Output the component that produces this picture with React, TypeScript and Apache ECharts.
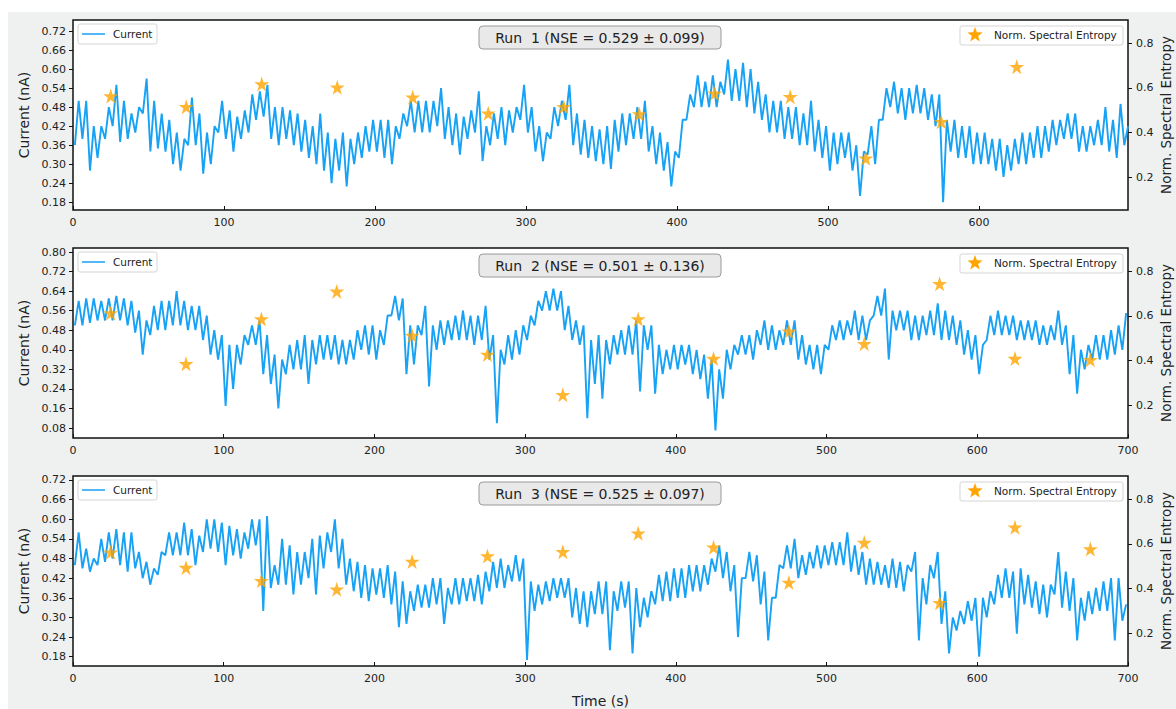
import React, { useEffect, useRef } from "react";
import * as echarts from "echarts";

// ---------- DATA ----------
const BIN_SECONDS = 5; // each current value pair (low, high) covers a 5 s window
const ENTROPY_TIMES = [25, 75, 125, 175, 225, 275, 325, 375, 425, 475, 525, 575, 625, 675];

const RUN1_ENTROPY = [0.564, 0.516, 0.618, 0.603, 0.558, 0.487, 0.516, 0.483, 0.576, 0.561, 0.285, 0.449, 0.695];
const RUN2_ENTROPY = [0.613, 0.386, 0.586, 0.71, 0.512, 0.427, 0.247, 0.586, 0.409, 0.531, 0.476, 0.744, 0.409, 0.404];
const RUN3_ENTROPY = [0.563, 0.494, 0.435, 0.397, 0.521, 0.546, 0.565, 0.648, 0.585, 0.427, 0.606, 0.337, 0.675, 0.577];

const RUN1_LOW = [
  0.36, 0.38, 0.28, 0.32, 0.38, 0.42, 0.37, 0.38, 0.40, 0.46,
  0.34, 0.35, 0.34, 0.30, 0.28, 0.36, 0.36, 0.27, 0.30, 0.40,
  0.38, 0.34, 0.38, 0.40, 0.44, 0.45, 0.38, 0.36, 0.38, 0.36,
  0.34, 0.32, 0.30, 0.28, 0.24, 0.28, 0.23, 0.30, 0.32, 0.34,
  0.34, 0.32, 0.30, 0.38, 0.42, 0.40, 0.40, 0.40, 0.42, 0.38,
  0.36, 0.33, 0.38, 0.40, 0.31, 0.36, 0.38, 0.36, 0.40, 0.44,
  0.40, 0.34, 0.31, 0.38, 0.42, 0.44, 0.36, 0.33, 0.32, 0.31,
  0.30, 0.285, 0.34, 0.36, 0.38, 0.38, 0.34, 0.30, 0.28, 0.23,
  0.32, 0.44, 0.48, 0.48, 0.48, 0.48, 0.52, 0.50, 0.50, 0.48,
  0.46, 0.44, 0.40, 0.40, 0.38, 0.38, 0.36, 0.36, 0.34, 0.32,
  0.28, 0.30, 0.32, 0.28, 0.20, 0.33, 0.30, 0.44, 0.48, 0.46,
  0.44, 0.46, 0.46, 0.44, 0.42, 0.18, 0.34, 0.32, 0.32, 0.30,
  0.30, 0.30, 0.28, 0.26, 0.28, 0.30, 0.30, 0.32, 0.32, 0.34,
  0.36, 0.38, 0.38, 0.34, 0.34, 0.36, 0.36, 0.34, 0.32, 0.36,
];
const RUN1_HIGH = [
  0.50, 0.50, 0.42, 0.42, 0.48, 0.55, 0.50, 0.46, 0.48, 0.57,
  0.50, 0.46, 0.44, 0.40, 0.38, 0.51, 0.46, 0.40, 0.42, 0.50,
  0.47, 0.45, 0.47, 0.52, 0.53, 0.55, 0.48, 0.48, 0.47, 0.46,
  0.44, 0.42, 0.46, 0.40, 0.38, 0.40, 0.38, 0.40, 0.42, 0.44,
  0.44, 0.44, 0.42, 0.46, 0.50, 0.50, 0.50, 0.50, 0.54, 0.48,
  0.46, 0.45, 0.47, 0.53, 0.42, 0.46, 0.48, 0.47, 0.48, 0.55,
  0.48, 0.42, 0.40, 0.48, 0.50, 0.55, 0.46, 0.44, 0.42, 0.41,
  0.42, 0.44, 0.46, 0.46, 0.48, 0.50, 0.42, 0.40, 0.37, 0.34,
  0.44, 0.52, 0.58, 0.56, 0.58, 0.56, 0.63, 0.60, 0.62, 0.60,
  0.56, 0.52, 0.50, 0.50, 0.48, 0.48, 0.46, 0.50, 0.44, 0.42,
  0.40, 0.40, 0.40, 0.36, 0.34, 0.42, 0.44, 0.54, 0.56, 0.54,
  0.54, 0.55, 0.54, 0.52, 0.52, 0.44, 0.44, 0.42, 0.42, 0.40,
  0.40, 0.38, 0.38, 0.36, 0.38, 0.40, 0.40, 0.42, 0.42, 0.44,
  0.44, 0.46, 0.46, 0.42, 0.42, 0.44, 0.48, 0.44, 0.49, 0.42,
];

const RUN2_LOW = [
  0.50, 0.50, 0.51, 0.52, 0.52, 0.52, 0.52, 0.50, 0.47, 0.38,
  0.46, 0.48, 0.48, 0.50, 0.50, 0.48, 0.48, 0.44, 0.38, 0.36,
  0.17, 0.24, 0.34, 0.42, 0.42, 0.30, 0.26, 0.16, 0.30, 0.32,
  0.32, 0.26, 0.34, 0.36, 0.36, 0.34, 0.34, 0.36, 0.40, 0.38,
  0.36, 0.42, 0.54, 0.52, 0.30, 0.34, 0.46, 0.25, 0.40, 0.42,
  0.44, 0.44, 0.44, 0.42, 0.44, 0.36, 0.10, 0.34, 0.36, 0.38,
  0.44, 0.50, 0.56, 0.56, 0.56, 0.48, 0.44, 0.42, 0.12, 0.26,
  0.20, 0.34, 0.38, 0.38, 0.38, 0.23, 0.40, 0.22, 0.30, 0.32,
  0.32, 0.34, 0.30, 0.28, 0.20, 0.07, 0.20, 0.32, 0.38, 0.38,
  0.36, 0.42, 0.40, 0.40, 0.42, 0.42, 0.36, 0.34, 0.32, 0.30,
  0.40, 0.44, 0.44, 0.46, 0.44, 0.44, 0.54, 0.54, 0.36, 0.48,
  0.48, 0.44, 0.44, 0.46, 0.46, 0.44, 0.44, 0.42, 0.38, 0.36,
  0.30, 0.44, 0.46, 0.46, 0.46, 0.44, 0.44, 0.44, 0.42, 0.42,
  0.44, 0.42, 0.30, 0.22, 0.32, 0.36, 0.36, 0.36, 0.38, 0.40,
];
const RUN2_HIGH = [
  0.60, 0.61, 0.61, 0.60, 0.61, 0.62, 0.61, 0.60, 0.56, 0.52,
  0.58, 0.60, 0.60, 0.64, 0.60, 0.58, 0.58, 0.54, 0.48, 0.46,
  0.42, 0.42, 0.46, 0.50, 0.52, 0.46, 0.38, 0.36, 0.42, 0.44,
  0.46, 0.44, 0.46, 0.46, 0.46, 0.44, 0.44, 0.48, 0.50, 0.50,
  0.48, 0.54, 0.62, 0.61, 0.50, 0.50, 0.58, 0.50, 0.52, 0.52,
  0.54, 0.56, 0.54, 0.54, 0.58, 0.46, 0.40, 0.46, 0.48, 0.50,
  0.54, 0.60, 0.64, 0.65, 0.64, 0.58, 0.52, 0.50, 0.44, 0.46,
  0.44, 0.46, 0.48, 0.50, 0.52, 0.50, 0.50, 0.42, 0.40, 0.42,
  0.42, 0.42, 0.40, 0.38, 0.36, 0.32, 0.40, 0.42, 0.46, 0.46,
  0.48, 0.52, 0.50, 0.48, 0.52, 0.52, 0.46, 0.42, 0.42, 0.42,
  0.50, 0.52, 0.52, 0.56, 0.54, 0.52, 0.62, 0.65, 0.56, 0.56,
  0.56, 0.54, 0.54, 0.56, 0.59, 0.56, 0.54, 0.52, 0.48, 0.46,
  0.42, 0.54, 0.56, 0.54, 0.54, 0.52, 0.52, 0.52, 0.50, 0.50,
  0.56, 0.50, 0.46, 0.40, 0.42, 0.46, 0.46, 0.48, 0.50, 0.55,
];

const RUN3_LOW = [
  0.46, 0.45, 0.44, 0.46, 0.47, 0.48, 0.46, 0.44, 0.45, 0.42,
  0.40, 0.43, 0.49, 0.49, 0.49, 0.49, 0.46, 0.50, 0.51, 0.50,
  0.46, 0.49, 0.48, 0.51, 0.52, 0.32, 0.39, 0.40, 0.40, 0.37,
  0.40, 0.42, 0.37, 0.45, 0.50, 0.45, 0.40, 0.38, 0.36, 0.35,
  0.37, 0.36, 0.34, 0.27, 0.28, 0.32, 0.33, 0.33, 0.34, 0.28,
  0.34, 0.34, 0.35, 0.35, 0.34, 0.38, 0.39, 0.39, 0.41, 0.41,
  0.17, 0.32, 0.34, 0.35, 0.36, 0.36, 0.30, 0.28, 0.27, 0.31,
  0.31, 0.20, 0.32, 0.33, 0.19, 0.27, 0.30, 0.34, 0.35, 0.35,
  0.36, 0.36, 0.38, 0.38, 0.40, 0.44, 0.42, 0.38, 0.24, 0.42,
  0.41, 0.34, 0.23, 0.36, 0.45, 0.45, 0.42, 0.43, 0.45, 0.45,
  0.46, 0.46, 0.46, 0.44, 0.43, 0.40, 0.40, 0.40, 0.39, 0.39,
  0.38, 0.44, 0.23, 0.34, 0.42, 0.28, 0.19, 0.26, 0.28, 0.29,
  0.18, 0.30, 0.34, 0.36, 0.36, 0.25, 0.34, 0.33, 0.31, 0.30,
  0.37, 0.33, 0.32, 0.23, 0.29, 0.31, 0.32, 0.32, 0.23, 0.29,
];
const RUN3_HIGH = [
  0.56, 0.51, 0.48, 0.54, 0.56, 0.57, 0.56, 0.56, 0.50, 0.47,
  0.45, 0.50, 0.56, 0.56, 0.59, 0.57, 0.55, 0.60, 0.60, 0.59,
  0.58, 0.57, 0.56, 0.60, 0.60, 0.61, 0.46, 0.54, 0.52, 0.50,
  0.50, 0.54, 0.55, 0.56, 0.60, 0.54, 0.48, 0.47, 0.46, 0.45,
  0.45, 0.46, 0.44, 0.41, 0.38, 0.40, 0.40, 0.42, 0.42, 0.39,
  0.42, 0.42, 0.42, 0.43, 0.44, 0.47, 0.48, 0.46, 0.49, 0.48,
  0.41, 0.40, 0.41, 0.42, 0.42, 0.42, 0.39, 0.38, 0.38, 0.41,
  0.41, 0.38, 0.41, 0.41, 0.39, 0.36, 0.38, 0.43, 0.44, 0.45,
  0.45, 0.46, 0.46, 0.46, 0.48, 0.52, 0.50, 0.46, 0.42, 0.50,
  0.49, 0.44, 0.36, 0.46, 0.52, 0.54, 0.49, 0.50, 0.52, 0.52,
  0.53, 0.53, 0.56, 0.52, 0.50, 0.48, 0.47, 0.46, 0.48, 0.47,
  0.46, 0.50, 0.42, 0.46, 0.50, 0.38, 0.30, 0.32, 0.35, 0.36,
  0.36, 0.38, 0.43, 0.45, 0.44, 0.45, 0.43, 0.41, 0.40, 0.40,
  0.50, 0.44, 0.42, 0.36, 0.38, 0.39, 0.41, 0.42, 0.42, 0.34,
];

const RUN_TITLES = [
  "Run  1 (NSE = 0.529 ± 0.099)",
  "Run  2 (NSE = 0.501 ± 0.136)",
  "Run  3 (NSE = 0.525 ± 0.097)",
];
const X_MAX = [698.7, 700, 700];
const LEFT_RANGE = [
  [0.1557, 0.7547],
  [0.0391, 0.8164],
  [0.1516, 0.7322],
];
const LEFT_TICKS = [
  [0.18, 0.24, 0.3, 0.36, 0.42, 0.48, 0.54, 0.6, 0.66, 0.72],
  [0.08, 0.16, 0.24, 0.32, 0.4, 0.48, 0.56, 0.64, 0.72, 0.8],
  [0.18, 0.24, 0.3, 0.36, 0.42, 0.48, 0.54, 0.6, 0.66, 0.72],
];
const RIGHT_RANGE = [0.0536, 0.9043];
const RIGHT_TICKS = [0.2, 0.4, 0.6, 0.8];
const X_TICKS = [0, 100, 200, 300, 400, 500, 600, 700];

// ---------- STYLE ----------
const BLUE = "#17a2f5";
const ORANGE = "#ffa500";
const FONT = "DejaVu Sans";
const TEXT = "#222";
const STAR = "path://M50,0L61.2,34.5L97.6,34.5L68.2,55.9L79.4,90.5L50,69.1L20.6,90.5L31.8,55.9L2.4,34.5L38.8,34.5Z";
const GRID_LEFT = 73;
const GRID_W = 1055;
const GRID_H = 190;
const GRID_TOPS = [20, 248, 476];

function traceData(low: number[], high: number[]) {
  const out: number[][] = [];
  for (let i = 0; i < low.length; i++) {
    const t0 = i * BIN_SECONDS;
    out.push([t0 + BIN_SECONDS * 0.25, low[i]]);
    out.push([t0 + BIN_SECONDS * 0.75, high[i]]);
  }
  return out;
}

function starPoints(cx: number, cy: number, r: number) {
  const pts: number[][] = [];
  for (let k = 0; k < 10; k++) {
    const rad = k % 2 === 0 ? r : r * 0.42;
    const a = -Math.PI / 2 + (k * Math.PI) / 5;
    pts.push([cx + rad * Math.cos(a), cy + rad * Math.sin(a)]);
  }
  return pts;
}

export default function App() {
  const ref = useRef<HTMLDivElement>(null);

  useEffect(() => {
    if (!ref.current) return;
    const chart = echarts.init(ref.current, undefined, { renderer: "svg" });
    const lows = [RUN1_LOW, RUN2_LOW, RUN3_LOW];
    const highs = [RUN1_HIGH, RUN2_HIGH, RUN3_HIGH];
    const ents = [RUN1_ENTROPY, RUN2_ENTROPY, RUN3_ENTROPY];

    const grid: any[] = [];
    const xAxis: any[] = [];
    const yAxis: any[] = [];
    const series: any[] = [];
    const graphic: any[] = [];

    for (let p = 0; p < 3; p++) {
      const top = GRID_TOPS[p];
      const xt = X_TICKS.filter((v) => v <= X_MAX[p]);
      grid.push({
        left: GRID_LEFT,
        top,
        width: GRID_W,
        height: GRID_H,
        show: true,
        backgroundColor: "#ffffff",
        borderColor: "#111",
        borderWidth: 1.5,
        containLabel: false,
        outerBoundsMode: "none",
      });
      xAxis.push({
        type: "value",
        gridIndex: p,
        min: 0,
        max: X_MAX[p],
        axisLine: { show: false },
        splitLine: { show: false },
        axisTick: { show: true, inside: true, length: 4, lineStyle: { color: "#111", width: 1 }, customValues: xt },
        axisLabel: {
          show: true,
          margin: 7,
          fontSize: 11,
          fontFamily: FONT,
          color: TEXT,
          customValues: xt,
          showMinLabel: true,
          showMaxLabel: true,
        },
        name: p === 2 ? "Time (s)" : "",
        nameLocation: "middle",
        nameGap: 28,
        nameTextStyle: { fontSize: 14, fontFamily: FONT, color: TEXT },
      });
      yAxis.push({
        type: "value",
        gridIndex: p,
        position: "left",
        min: LEFT_RANGE[p][0],
        max: LEFT_RANGE[p][1],
        axisLine: { show: false },
        splitLine: { show: false },
        axisTick: { show: true, inside: false, length: 4, lineStyle: { color: "#111", width: 1 }, customValues: LEFT_TICKS[p] },
        axisLabel: {
          margin: 7,
          fontSize: 11,
          fontFamily: FONT,
          color: TEXT,
          customValues: LEFT_TICKS[p],
          formatter: (v: number) => v.toFixed(2),
        },
        name: "Current (nA)",
        nameLocation: "middle",
        nameGap: 41,
        nameTextStyle: { fontSize: 14, fontFamily: FONT, color: TEXT },
      });
      yAxis.push({
        type: "value",
        gridIndex: p,
        position: "right",
        min: RIGHT_RANGE[0],
        max: RIGHT_RANGE[1],
        axisLine: { show: false },
        splitLine: { show: false },
        axisTick: { show: true, inside: false, length: 4, lineStyle: { color: "#111", width: 1 }, customValues: RIGHT_TICKS },
        axisLabel: {
          margin: 8,
          fontSize: 11,
          fontFamily: FONT,
          color: TEXT,
          customValues: RIGHT_TICKS,
          formatter: (v: number) => v.toFixed(1),
        },
      });

      series.push({
        type: "line",
        name: "Current",
        xAxisIndex: p,
        yAxisIndex: p * 2,
        data: traceData(lows[p], highs[p]),
        showSymbol: false,
        symbol: "none",
        lineStyle: { color: BLUE, width: 1.9 },
        clip: true,
        z: 2,
      });
      series.push({
        type: "scatter",
        name: "Norm. Spectral Entropy",
        xAxisIndex: p,
        yAxisIndex: p * 2 + 1,
        data: ents[p].map((v, i) => [ENTROPY_TIMES[i], v]),
        symbol: STAR,
        symbolSize: 15,
        itemStyle: { color: ORANGE },
        z: 3,
      });

      // right axis title
      graphic.push({
        type: "text",
        z: 101,
        x: 1166,
        y: top + GRID_H / 2,
        rotation: Math.PI / 2,
        style: {
          text: "Norm. Spectral Entropy",
          fill: TEXT,
          font: `13.5px "${FONT}"`,
          align: "center",
          verticalAlign: "middle",
        },
      });
      // title box
      graphic.push({
        type: "rect",
        z: 100,
        shape: { x: 479, y: top + 6, width: 242, height: 23, r: 4 },
        style: { fill: "#e9e9e9", stroke: "#9a9a9a", lineWidth: 1 },
      });
      graphic.push({
        type: "text",
        z: 101,
        x: 600,
        y: top + 17.5,
        style: {
          text: RUN_TITLES[p],
          fill: TEXT,
          font: `14px "${FONT}"`,
          align: "center",
          verticalAlign: "middle",
        },
      });
      // left legend
      graphic.push({
        type: "rect",
        z: 100,
        shape: { x: 78, y: top + 4, width: 79, height: 20, r: 2 },
        style: { fill: "rgba(255,255,255,0.85)", stroke: "#d5d5d5", lineWidth: 1 },
      });
      graphic.push({
        type: "line",
        z: 101,
        shape: { x1: 82, y1: top + 14, x2: 105, y2: top + 14 },
        style: { stroke: BLUE, lineWidth: 1.5 },
      });
      graphic.push({
        type: "text",
        z: 101,
        x: 113,
        y: top + 14,
        style: { text: "Current", fill: TEXT, font: `10.5px "${FONT}"`, verticalAlign: "middle" },
      });
      // right legend
      graphic.push({
        type: "rect",
        z: 100,
        shape: { x: 960, y: top + 6, width: 163, height: 19, r: 2 },
        style: { fill: "rgba(255,255,255,0.85)", stroke: "#d5d5d5", lineWidth: 1 },
      });
      graphic.push({
        type: "polygon",
        z: 101,
        shape: { points: starPoints(975, top + 15, 8) },
        style: { fill: ORANGE },
      });
      graphic.push({
        type: "text",
        z: 101,
        x: 994,
        y: top + 15,
        style: { text: "Norm. Spectral Entropy", fill: TEXT, font: `10.5px "${FONT}"`, verticalAlign: "middle" },
      });
    }

    chart.setOption({
      animation: false,
      backgroundColor: "transparent",
      textStyle: { fontFamily: FONT },
      grid,
      xAxis,
      yAxis,
      series,
      graphic,
    });

    return () => {
      chart.dispose();
    };
  }, []);

  return (
    <div style={{ position: "absolute", left: 0, top: 0, width: 1176, height: 709, background: "#ffffff" }}>
      <div style={{ position: "absolute", left: 8, top: 12, width: 1168, height: 697, background: "#eef1f0" }} />
      <div ref={ref} style={{ position: "absolute", left: 0, top: 0, width: 1176, height: 709 }} />
    </div>
  );
}
